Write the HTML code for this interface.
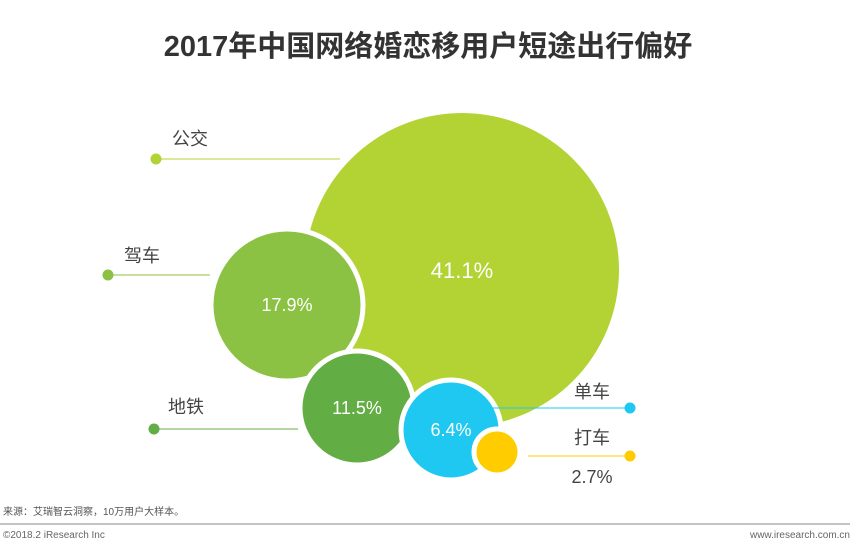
<!DOCTYPE html>
<html><head><meta charset="utf-8"><style>
body{margin:0;background:#fff;}
svg{display:block;font-family:"Liberation Sans","Noto Sans CJK SC",sans-serif;}
</style></head><body>
<svg id="chart" width="856" height="542" viewBox="0 0 856 542">
<text x="428" y="56" text-anchor="middle" font-size="29" font-weight="bold" fill="#333">2017年中国网络婚恋移用户短途出行偏好</text>
<g id="bubbles"></g>
<text x="3" y="515" font-size="10" fill="#555">来源：艾瑞智云洞察，10万用户大样本。</text>
<line x1="0" y1="524" x2="850" y2="524" stroke="#888" stroke-width="1"/>
<text x="3" y="538" font-size="10" fill="#666">©2018.2 iResearch Inc</text>
<text x="850" y="538" text-anchor="end" font-size="10" fill="#666">www.iresearch.com.cn</text>
</svg>
<script>
const categories=["公交","驾车","地铁","单车","打车"];
const values=[41.1,17.9,11.5,6.4,2.7];
const colors=["#b3d334","#8bc243","#63ad45","#1ec8f0","#ffcc00"];
// layout (positions only)
const centers=[[462,270],[287,305],[357,408],[451,430],[497,452]];
const rScaleDomain=[2.7,6.4,11.5,17.9,41.1], rScaleRange=[23,50,57,76,157];
function rScale(v){
  for(let i=0;i<rScaleDomain.length-1;i++){
    if(v<=rScaleDomain[i+1]||i===rScaleDomain.length-2){
      const t=(v-rScaleDomain[i])/(rScaleDomain[i+1]-rScaleDomain[i]);
      return Math.max(8,rScaleRange[i]+t*(rScaleRange[i+1]-rScaleRange[i]));
    }
  }
}
const labelLayouts=[
 {lx1:156,lx2:340,ly:159,dot:156,tx:190,ty:145,anchor:"middle"},
 {lx1:108,lx2:210,ly:275,dot:108,tx:142,ty:262,anchor:"middle"},
 {lx1:154,lx2:298,ly:429,dot:154,tx:186,ty:413,anchor:"middle"},
 {lx1:487,lx2:630,ly:408,dot:630,tx:592,ty:398,anchor:"middle"},
 {lx1:528,lx2:630,ly:456,dot:630,tx:592,ty:444,anchor:"middle"}
];
const NS="http://www.w3.org/2000/svg";
const g=document.getElementById("bubbles");
function mk(t,a){const e=document.createElementNS(NS,t);for(const k in a)e.setAttribute(k,a[k]);return e;}
values.forEach((v,i)=>{
  const r=rScale(v),c=centers[i];
  const b=mk("circle",{cx:c[0],cy:c[1],r:r,fill:colors[i],stroke:"#fff","stroke-width":i===0?0:5});
  
  
  g.appendChild(b);
  const t=mk("text",{"text-anchor":"middle","font-size":i===0?22:18,fill:"#fff"});
  if(i===4){t.setAttribute("x",592);t.setAttribute("y",483);t.setAttribute("fill","#444");}
  else{t.setAttribute("x",c[0]);t.setAttribute("y",c[1]+(i===0?8:6));}
  t.textContent=v.toFixed(1)+"%";
  
  
  g.appendChild(t);
});
values.forEach((v,i)=>{
  const L=labelLayouts[i];
  const line=mk("line",{x1:L.lx1,x2:L.lx2,y1:L.ly,y2:L.ly,stroke:colors[i],"stroke-width":1});
  
  
  g.appendChild(line);
  const dot=mk("circle",{cx:L.dot,cy:L.ly,r:5.5,fill:colors[i]});
  
  
  g.appendChild(dot);
  const lab=mk("text",{x:L.tx,y:L.ty,"text-anchor":L.anchor,"font-size":18,fill:"#444"});
  lab.textContent=categories[i];
  
  
  g.appendChild(lab);
});
</script>
</body></html>
